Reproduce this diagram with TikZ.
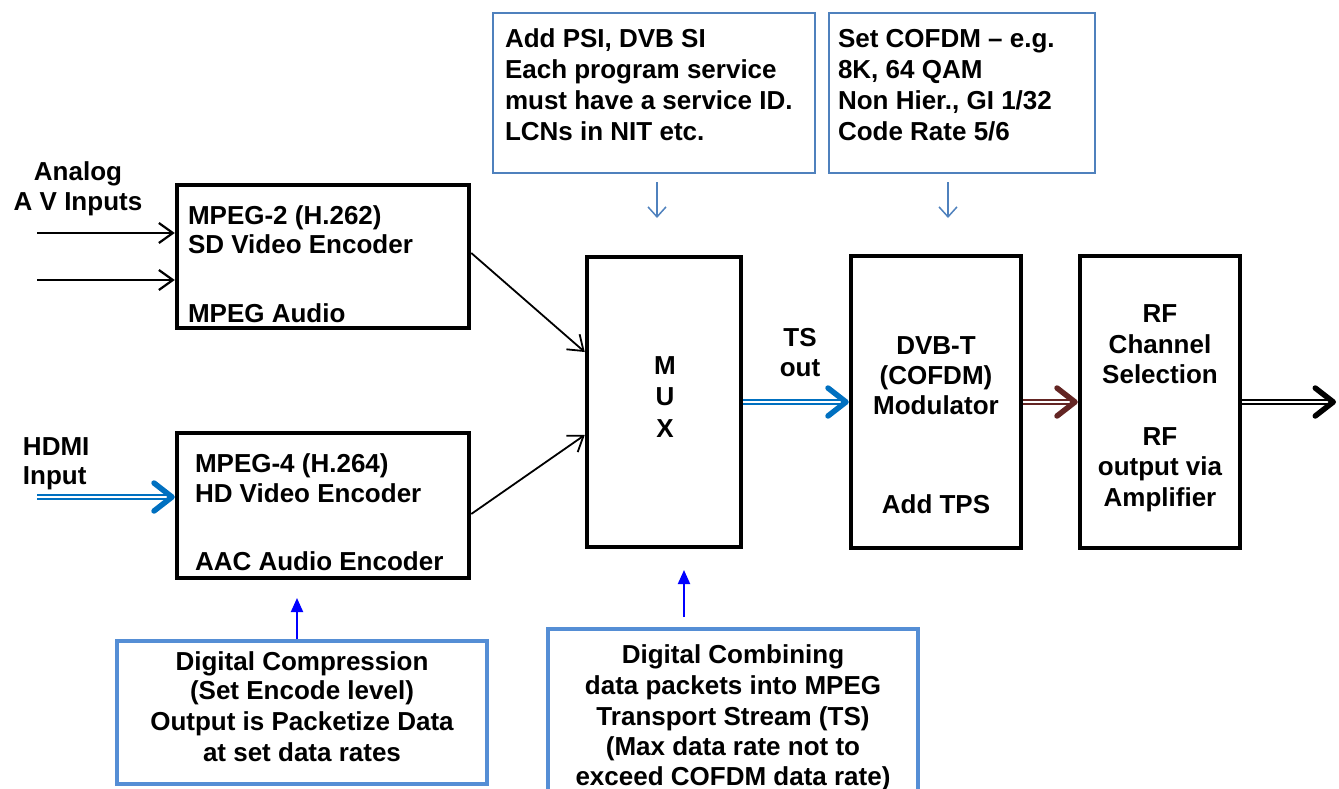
\documentclass[tikz,border=0pt]{standalone}
\usepackage{fontspec}
\setmainfont{Liberation Sans}
\usetikzlibrary{arrows.meta}
\definecolor{tsblue}{HTML}{0070C0}
\definecolor{boxblueA}{HTML}{4F81BD}
\definecolor{boxblueB}{HTML}{558ED5}
\definecolor{redbrown}{HTML}{632523}
\definecolor{pureblue}{HTML}{0000FF}
\begin{document}
\begin{tikzpicture}[x=1pt,y=-1pt,
  blk/.style={draw=black, line width=4.5pt, inner sep=0pt},
  noteA/.style={draw=boxblueA, line width=2.5pt, inner sep=0pt},
  noteB/.style={draw=boxblueB, line width=4pt, inner sep=0pt},
  txt/.style={font=\fontsize{26}{30}\selectfont\bfseries, inner sep=0pt, outer sep=0pt},
  inarrow/.style={line width=2.2pt, -{Straight Barb[length=14pt,width=20pt]}},
  thinarrow/.style={line width=1.8pt, -{Straight Barb[length=14pt,width=20pt]}},
  dblarrow/.style={draw=#1, double=white, double distance=2.5pt, line width=2pt,
     -{Straight Barb[length=18pt,width=28pt,line width=5.5pt,round]}},
  downarrow/.style={draw=boxblueA, line width=1.5pt, -{Straight Barb[length=10pt,width=18pt]}},
  uparrow/.style={draw=pureblue, line width=2pt, -{Triangle[length=14pt,width=12pt]}}
]
\useasboundingbox (0,0) rectangle (1339,789);

% main blocks
\node[blk, minimum width=292pt, minimum height=143pt] (sd) at (323,256.5) {};
\node[blk, minimum width=292pt, minimum height=145pt] (hd) at (323,505.5) {};
\node[blk, minimum width=154pt, minimum height=290pt] (mux) at (664,402) {};
\node[blk, minimum width=170pt, minimum height=292pt] (dvb) at (936,402) {};
\node[blk, minimum width=160pt, minimum height=292pt] (rf) at (1160,402) {};

% note boxes
\node[noteA, minimum width=322pt, minimum height=160pt] (psi) at (654,93) {};
\node[noteA, minimum width=266pt, minimum height=160pt] (cof) at (962,93) {};
\node[noteB, minimum width=370pt, minimum height=143pt] (comp) at (302,712.5) {};
\node[noteB, minimum width=370pt, minimum height=171pt] (comb) at (733,714.5) {};

% texts (anchor = baseline of the last line)
\node[txt, anchor=base, align=center] (analog) at (78,210) {Analog\\[-1pt]A V Inputs};
\node[txt, anchor=base west, align=left] (hdmi) at (23,484) {HDMI\\[-1pt]Input};
\node[txt, anchor=base west, align=left] (sdtxt) at (188,322) {MPEG-2 (H.262)\\[-1pt]SD Video Encoder\\[39pt]MPEG Audio};
\node[txt, anchor=base west, align=left] (hdtxt) at (195,570) {MPEG-4 (H.264)\\HD Video Encoder\\[38pt]AAC Audio Encoder};
\node[txt, anchor=base, align=center] (muxtxt) at (665,437) {M\\[1.5pt]U\\[1.5pt]X};
\node[txt, anchor=base, align=center] (tstxt) at (800,376) {TS\\out};
\node[txt, anchor=base, align=center] (dvbtxt) at (936,513) {DVB-T\\(COFDM)\\Modulator\\[69pt]Add TPS};
\node[txt, anchor=base, align=center] (rftxt) at (1160,506) {RF\\[1pt]Channel\\Selection\\[32pt]RF\\output via\\[1pt]Amplifier};
\node[txt, anchor=base west, align=left] (psitxt) at (505,141) {Add PSI, DVB SI\\[1pt]Each program service\\[1pt]must have a service ID.\\[1pt]LCNs in NIT etc.};
\node[txt, anchor=base west, align=left] (coftxt) at (838,141) {Set COFDM – e.g.\\[1pt]8K, 64 QAM\\[1pt]Non Hier., GI 1/32\\[1pt]Code Rate 5/6};
\node[txt, anchor=base, align=center] (comptxt) at (302,761) {Digital Compression\\[-1pt](Set Encode level)\\[1pt]Output is Packetize Data\\[1pt]at set data rates};
\node[txt, anchor=base, align=center] (combtxt) at (733,785) {Digital Combining\\[1pt]data packets into MPEG\\[1pt]Transport Stream (TS)\\(Max data rate not to\\exceed COFDM data rate)};

% free ends
\coordinate (avA) at (37,233);
\coordinate (avB) at (37,280);
\coordinate (hdmiin) at (37,497);
\coordinate (rfout) at (1336,402);
\coordinate (psiA) at (657,182);
\coordinate (psiB) at (657,218);
\coordinate (cofA) at (948,182);
\coordinate (cofB) at (948,218);
\coordinate (compTip) at (297,598);
\coordinate (combA) at (684,617);
\coordinate (combTip) at (684,570);

% connectors
\draw[inarrow] (avA) -- (avA -| sd.west);
\draw[inarrow] (avB) -- (avB -| sd.west);
\draw[dblarrow=tsblue] (hdmiin) -- (hdmiin -| hd.west);
\draw[thinarrow] ([yshift=3.5pt]sd.east) -- ([yshift=50pt]mux.west);
\draw[thinarrow] ([yshift=-8.5pt]hd.east) -- ([yshift=-33pt]mux.west);
\draw[dblarrow=tsblue] (mux.east) -- (dvb.west);
\draw[dblarrow=redbrown] (dvb.east) -- (rf.west);
\draw[dblarrow=black] (rf.east) -- (rfout);
\draw[downarrow] (psiA) -- (psiB);
\draw[downarrow] (cofA) -- (cofB);
\draw[uparrow] (comp.north -| compTip) -- (compTip);
\draw[uparrow] (combA) -- (combTip);
\end{tikzpicture}
\end{document}
